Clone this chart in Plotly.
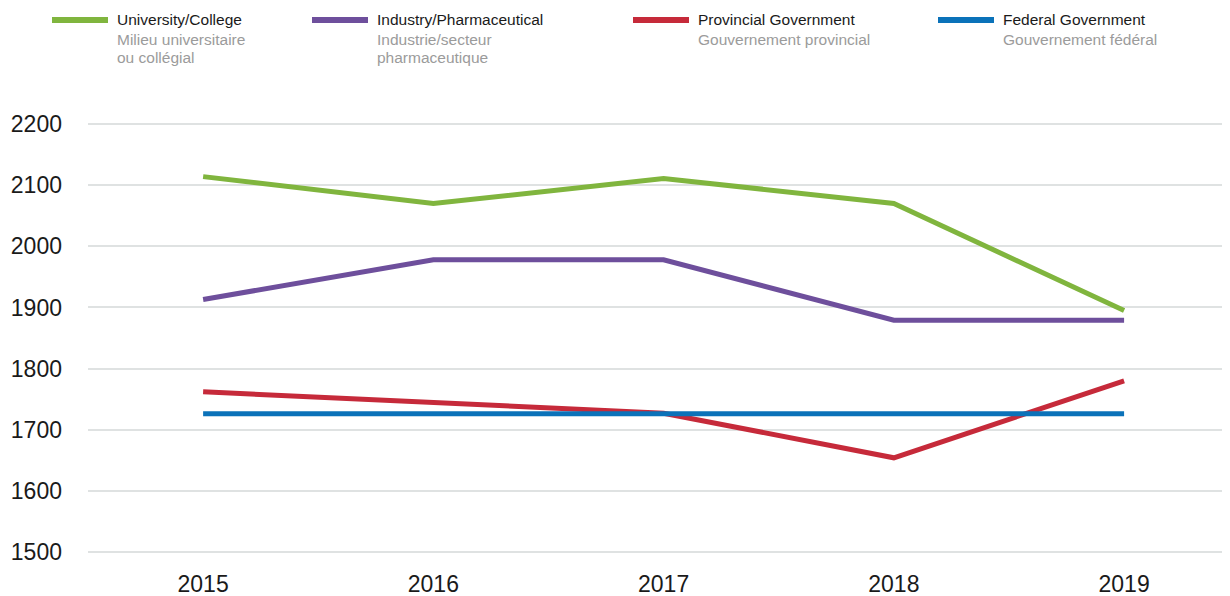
import plotly.graph_objects as go

years = ["2015", "2016", "2017", "2018", "2019"]
university = [2114, 2070, 2111, 2070, 1895]
industry = [1913, 1978, 1978, 1879, 1879]
provincial = [1762, 1745, 1727, 1654, 1780]
federal = [1726, 1726, 1726, 1726, 1726]

series_names = ["University/College", "Industry/Pharmaceutical", "Provincial Government", "Federal Government"]
series_sub = [["Milieu universitaire", "ou collégial"], ["Industrie/secteur", "pharmaceutique"],
              ["Gouvernement provincial"], ["Gouvernement fédéral"]]
series_values = [university, industry, provincial, federal]
colors = ["#80b53e", "#6e4f9c", "#c62a3a", "#0b72b9"]

y_ticks = [1500, 1600, 1700, 1800, 1900, 2000, 2100, 2200]

# page has an 8px body margin; figure coordinates are page coordinates minus 8
OFF = 8
W, H = 1230 - OFF, 596 - OFF
ml, mt, mb = 88 - OFF, 121 - OFF, 41

fig = go.Figure()
for name, vals, col in zip(series_names, series_values, colors):
    fig.add_trace(go.Scatter(x=years, y=vals, mode="lines", name=name,
                             line=dict(color=col, width=5), showlegend=False))

# custom legend (page x positions)
leg_x = [52, 312, 633, 938]
shapes = []
annotations = []
ph = H - mt - mb
pw = W - ml
for i, (name, subs, col) in enumerate(zip(series_names, series_sub, colors)):
    x0 = leg_x[i] - OFF
    yl = 20 - OFF
    shapes.append(dict(type="line", xref="paper", yref="paper",
                       x0=(x0 - ml) / pw, x1=(x0 + 56 - ml) / pw,
                       y0=(H - mb - yl) / ph, y1=(H - mb - yl) / ph,
                       line=dict(color=col, width=6)))
    lines = [(name, "#1a1a1a")] + [(s, "#9b9b9b") for s in subs]
    for j, (t, c) in enumerate(lines):
        yc = 20 - OFF + 19 * j
        annotations.append(dict(text=t, xref="paper", yref="paper",
                                x=(x0 + 63 - ml) / pw,
                                y=(H - mb - yc) / ph,
                                xanchor="left", yanchor="middle", showarrow=False,
                                font=dict(size=15.5, color=c, family="Liberation Sans, Arial, sans-serif")))

fig.update_layout(
    width=W, height=H,
    margin=dict(l=ml, r=0, t=mt, b=mb),
    paper_bgcolor="white", plot_bgcolor="white",
    font=dict(family="Liberation Sans, Arial, sans-serif", color="#1a1a1a"),
    shapes=shapes, annotations=annotations,
    xaxis=dict(type="category", range=[-0.5, 4.46], showgrid=False, zeroline=False,
               showline=False, ticks="", tickfont=dict(size=23, color="#1a1a1a"),
               ticklabelstandoff=13),
    yaxis=dict(range=[1495, 2205], tickvals=y_ticks, showgrid=True,
               gridcolor="#dfe2e2", gridwidth=1.5, zeroline=False, showline=False,
               ticks="", tickfont=dict(size=23, color="#1a1a1a"), ticklabelstandoff=25),
)

fig.write_html("out.html")
